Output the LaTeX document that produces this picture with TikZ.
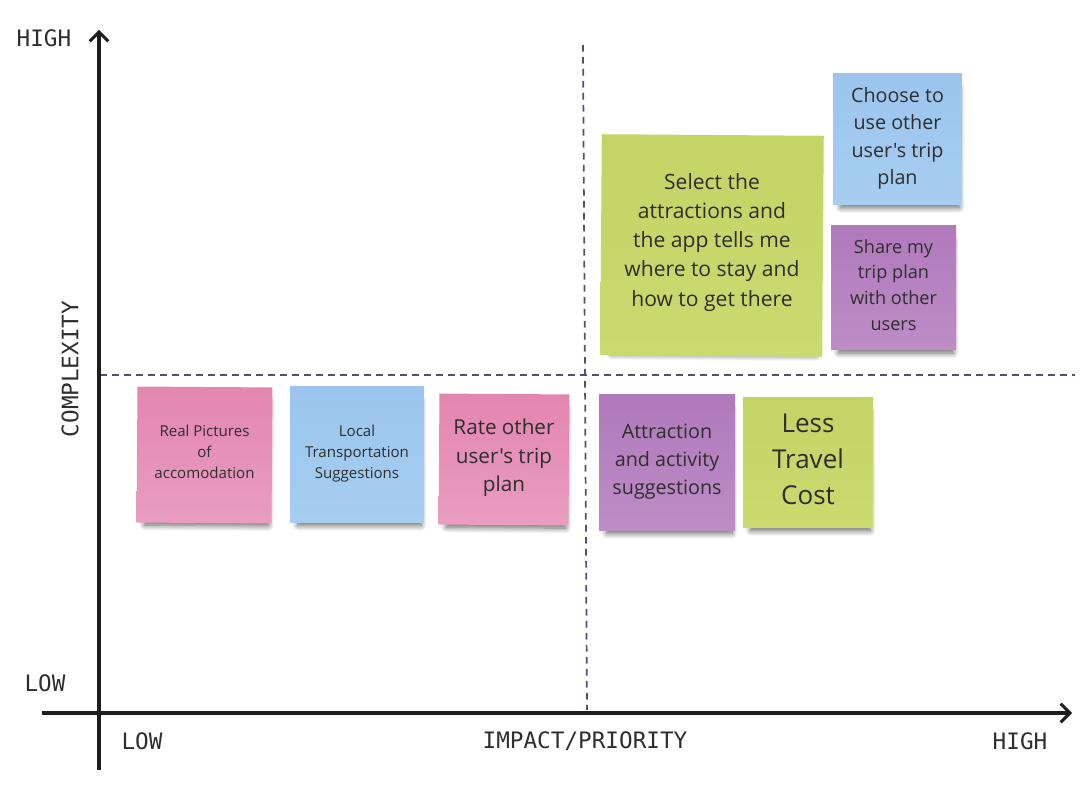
\documentclass[tikz,border=0pt]{standalone}
\usepackage{fontspec}
\setmainfont{Open Sans}
\newfontfamily\notefont{Open Sans}
\newfontfamily\axisfont{DejaVu Sans Mono}
\usetikzlibrary{shadows.blur,arrows.meta}
\definecolor{textc}{HTML}{2E2E2E}
\definecolor{axisc}{HTML}{1E1E1E}
\definecolor{dashc}{HTML}{505074}
\definecolor{pinkT}{HTML}{E386AF}
\definecolor{pinkB}{HTML}{E99DC0}
\definecolor{blueT}{HTML}{9BC5EE}
\definecolor{blueB}{HTML}{A6CEF1}
\definecolor{purpT}{HTML}{B079BC}
\definecolor{purpB}{HTML}{BD8DC6}
\definecolor{greenT}{HTML}{C4D365}
\definecolor{greenB}{HTML}{CBDA6F}
\tikzset{
  stickynote/.style={rectangle, inner sep=0pt,
    blur shadow={shadow xshift=2pt, shadow yshift=-6.5pt, shadow scale=0.92, shadow opacity=60, shadow blur steps=10, shadow blur radius=4.5pt}},
  notetext/.style={inner sep=0pt, align=center, text=textc},
  pinknote/.style={stickynote, top color=pinkT, bottom color=pinkB},
  bluenote/.style={stickynote, top color=blueT, bottom color=blueB},
  purpnote/.style={stickynote, top color=purpT, bottom color=purpB},
  greennote/.style={stickynote, top color=greenT, bottom color=greenB},
  axisline/.style={draw=axisc, line width=2.5pt, -{Straight Barb[length=7pt,width=14pt,line width=2.2pt]}},
  dashline/.style={draw=dashc, line width=1.3pt, dash pattern=on 5pt off 4pt},
  axislabel/.style={text=textc, font=\axisfont\fontsize{17}{20}\selectfont, inner sep=0pt}
}
\begin{document}
\begin{tikzpicture}[x=0.75pt,y=-0.75pt]
\useasboundingbox (0,0) rectangle (1090,791);
% dashed quadrant lines
\coordinate (vdT) at (583,45);
\coordinate (vdB) at (587,710);
\coordinate (hdL) at (100,375);
\coordinate (hdR) at (1075,375);
\draw[dashline] (vdT) -- (vdB);
\draw[dashline] (hdL) -- (hdR);
% axes
\coordinate (yB) at (99,770);
\coordinate (yT) at (99,30);
\coordinate (xL) at (42,713);
\coordinate (xR) at (1072,713);
\draw[axisline] (yB) -- (yT);
\draw[axisline] (xL) -- (xR);
% axis labels
\node[axislabel] (lhigh) at (44,38) {HIGH};
\node[axislabel] (llow) at (45,683) {LOW};
\node[axislabel, rotate=90] (lcomp) at (70,369) {COMPLEXITY};
\node[axislabel] (blow) at (142,741) {LOW};
\node[axislabel] (bimp) at (585,741) {IMPACT/PRIORITY};
\node[axislabel] (bhigh) at (1020,741) {HIGH};
% sticky notes
\node[pinknote, minimum width=101.25pt, minimum height=102pt, rotate=-0.4] (n1) at (204.5,455) {};
\node[notetext, font=\notefont\fontsize{11.3}{15.8}\selectfont] (t1) at ([yshift=2.2pt]n1.center) {Real Pictures\\of\\accomodation};
\node[bluenote, minimum width=100.5pt, minimum height=102pt] (n2) at (357,455) {};
\node[notetext, font=\notefont\fontsize{11.3}{15.8}\selectfont] (t2) at ([yshift=1.2pt]n2.center) {Local\\Transportation\\Suggestions};
\node[pinknote, minimum width=97.5pt, minimum height=98.25pt, rotate=-0.4] (n3) at (504,459.5) {};
\node[notetext, font=\notefont\fontsize{15.5}{21.3}\selectfont] (t3) at ([yshift=1.2pt]n3.center) {Rate other\\user's trip\\plan};
\node[purpnote, minimum width=102pt, minimum height=102pt] (n4) at (667,463) {};
\node[notetext, font=\notefont\fontsize{14.8}{21}\selectfont] (t4) at ([yshift=0.8pt]n4.center) {Attraction\\and activity\\suggestions};
\node[greennote, minimum width=97.5pt, minimum height=97.5pt] (n5) at (808,463) {};
\node[notetext, font=\notefont\fontsize{19.5}{27}\selectfont] (t5) at ([yshift=3pt]n5.center) {Less\\Travel\\Cost};
\node[greennote, minimum width=166.5pt, minimum height=165.75pt, rotate=-0.4] (n6) at (712,245.5) {};
\node[notetext, font=\notefont\fontsize{15.8}{21.8}\selectfont] (t6) at ([yshift=2.3pt]n6.center) {Select the\\attractions and\\the app tells me\\where to stay and\\how to get there};
\node[bluenote, minimum width=96.75pt, minimum height=98.25pt] (n7) at (897.5,139.5) {};
\node[notetext, font=\notefont\fontsize{14.8}{20.6}\selectfont] (t7) at ([yshift=0.8pt]n7.center) {Choose to\\use other\\user's trip\\plan};
\node[purpnote, minimum width=93.75pt, minimum height=93pt] (n8) at (893.5,288) {};
\node[notetext, font=\notefont\fontsize{13.6}{19.3}\selectfont] (t8) at ([yshift=2.2pt]n8.center) {Share my\\trip plan\\with other\\users};
\end{tikzpicture}
\end{document}
